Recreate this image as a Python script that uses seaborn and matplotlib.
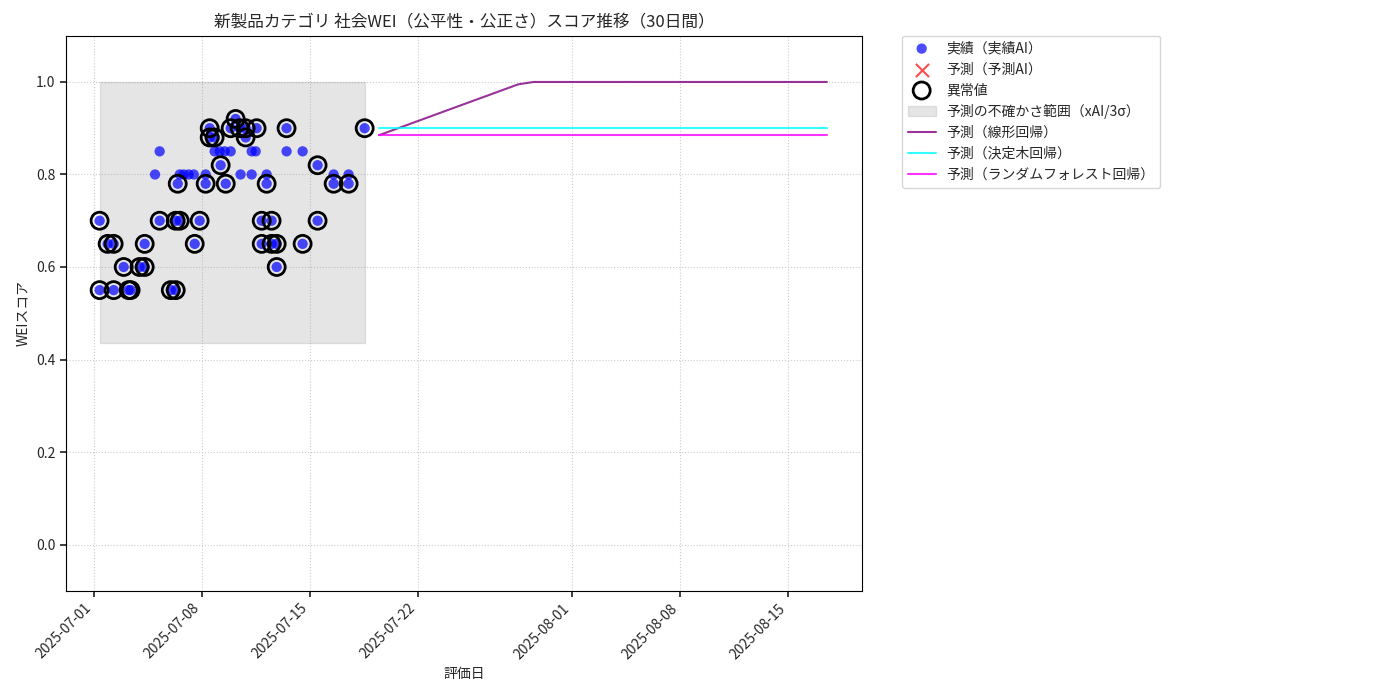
import matplotlib
matplotlib.use("Agg")
import matplotlib.pyplot as plt
import seaborn as sns
import numpy as np
import pandas as pd

sns.set_theme(style="white")
plt.rcParams['font.family'] = ['Noto Sans CJK JP', 'DejaVu Sans']

base = pd.Timestamp("2025-07-01")
# actual points: day offsets and scores
act_days = [0.39,0.39,0.91,1.30,1.30,1.95,2.27,2.40,2.98,3.31,3.31,4.28,5.00,5.32,5.32,5.45,5.58,6.55,6.87,7.26,7.52,7.52,7.84,8.23,8.56,8.88,9.20,9.46,9.85,9.85,10.56,10.89,10.89,11.21,11.53,11.53,11.86,11.86,12.50,13.54,14.51,14.51,15.55,16.52,17.56,
            3.98,4.28,5.58,5.84,6.16,6.49,7.26,7.84,8.17,8.49,8.88,9.52,10.24,10.24,10.50,11.21,12.50,13.54,15.55,16.52]
act_vals = [0.70,0.55,0.65,0.65,0.55,0.60,0.55,0.55,0.60,0.60,0.65,0.70,0.55,0.55,0.70,0.78,0.70,0.65,0.70,0.78,0.90,0.88,0.88,0.82,0.78,0.90,0.92,0.90,0.88,0.90,0.90,0.70,0.65,0.78,0.70,0.65,0.65,0.60,0.90,0.65,0.82,0.70,0.78,0.78,0.90,
            0.80,0.85,0.80,0.80,0.80,0.80,0.80,0.85,0.85,0.85,0.85,0.80,0.85,0.80,0.85,0.80,0.85,0.85,0.80,0.80]
n_anom = 45

fc_days = [18.5 + k for k in range(30)]
fc_linear = [min(1.0, 0.885 + 0.0122 * k) for k in range(30)]
fc_tree = [0.90] * 30
fc_rf = [0.885] * 30
band_low, band_high = 0.435, 1.0

act_dates = base + pd.to_timedelta(act_days, unit="D")
fc_dates = base + pd.to_timedelta(fc_days, unit="D")
df = pd.DataFrame({"date": act_dates, "val": act_vals})

fig = plt.figure(figsize=(14, 7), dpi=100)
ax = fig.add_axes([0.047, 0.156, 0.569, 0.793])

band_x = [act_dates.min(), act_dates.max()]
ax.fill_between(band_x, [band_low]*2, [band_high]*2, color="gray", alpha=0.2,
                label="予測の不確かさ範囲（xAI/3σ）")
sns.scatterplot(data=df, x="date", y="val", ax=ax, color="blue", alpha=0.7, s=55,
                edgecolor="none", label="実績（実績AI）", zorder=3)
ax.scatter([], [], marker="x", color="red", alpha=0.7, s=90, label="予測（予測AI）")
ax.scatter(act_dates[:n_anom], act_vals[:n_anom], s=150, facecolors="none",
           edgecolors="black", linewidths=2, label="異常値", zorder=4)
sns.lineplot(x=fc_dates, y=fc_linear, ax=ax, color="purple", alpha=0.8, label="予測（線形回帰）")
sns.lineplot(x=fc_dates, y=fc_tree, ax=ax, color="cyan", alpha=0.8, label="予測（決定木回帰）")
sns.lineplot(x=fc_dates, y=fc_rf, ax=ax, color="magenta", alpha=0.8, label="予測（ランダムフォレスト回帰）")

ax.set_xlim(base - pd.Timedelta(days=1.8), base + pd.Timedelta(days=49.8))
ax.set_ylim(-0.1, 1.1)
ticks = pd.to_datetime(["2025-07-01","2025-07-08","2025-07-15","2025-07-22","2025-08-01","2025-08-08","2025-08-15"])
ax.set_xticks(ticks)
ax.set_xticklabels([t.strftime("%Y-%m-%d") for t in ticks], rotation=45, ha="right")
ax.set_yticks([0.0,0.2,0.4,0.6,0.8,1.0])
ax.tick_params(axis="both", labelsize=10, left=True, bottom=True, length=4)
ax.grid(True, linestyle=":", color="#cccccc", linewidth=0.8)
for s in ax.spines.values():
    s.set_color("black")
    s.set_linewidth(0.8)
ax.set_title("新製品カテゴリ 社会WEI（公平性・公正さ）スコア推移（30日間）", fontsize=12)
ax.set_xlabel("評価日", fontsize=10)
ax.set_ylabel("WEIスコア", fontsize=10)
h, l = ax.get_legend_handles_labels()
order = [1, 2, 3, 0, 4, 5, 6]
ax.legend([h[i] for i in order], [l[i] for i in order], loc="upper left",
          bbox_to_anchor=(1.05, 1.0), fontsize=10, borderaxespad=0)
fig.savefig("out.png", dpi=100)
